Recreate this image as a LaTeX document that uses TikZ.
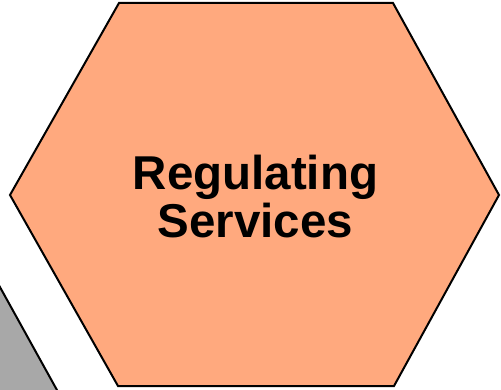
\documentclass[tikz,border=0pt]{standalone}
\usepackage{fontspec}
\setmainfont{Liberation Sans}
\definecolor{salmon}{HTML}{FFA97E}
\definecolor{grayshape}{HTML}{A8A8A8}
\tikzset{hexbox/.style={fill=salmon,draw=black,line width=2pt,line join=miter},
  grayhex/.style={fill=grayshape,draw=black,line width=2pt},
  label/.style={font=\fontsize{47.5}{48}\selectfont\bfseries,align=center,text=black}}
\begin{document}
\begin{tikzpicture}[x=1pt,y=-1pt]
\useasboundingbox (0,0) rectangle (501,390);
\begin{scope}
\clip (0,0) rectangle (501,390);
\draw[grayhex] (-20,251) -- (64.7,404) -- (-20,404) -- cycle;
\draw[hexbox] (10,195) -- (119,3) -- (393,3) -- (499,195) -- (394,386) -- (118,386) -- cycle;
\end{scope}
\node[label] (t) at (255.5,197) {Regulating\\Services};
\end{tikzpicture}
\end{document}
